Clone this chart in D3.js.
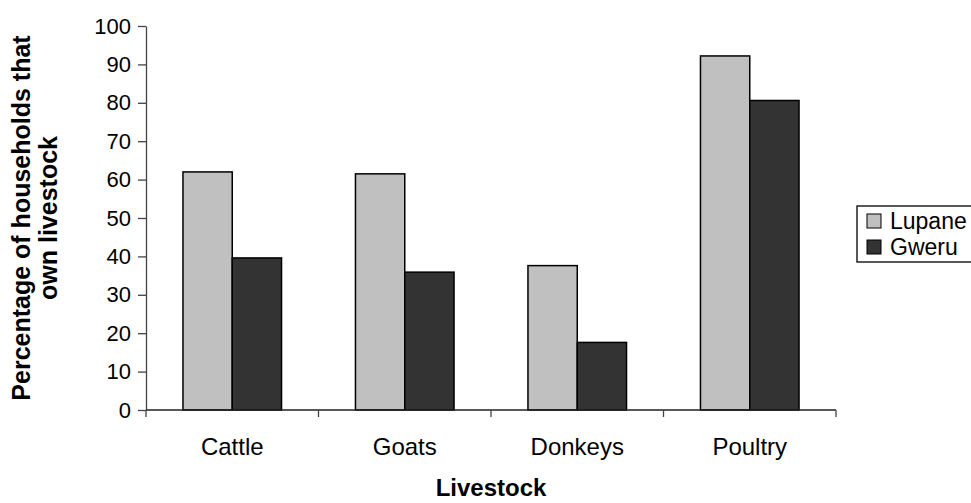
<!DOCTYPE html>
<html>
<head>
<meta charset="utf-8">
<script src="https://cdn.jsdelivr.net/npm/d3@7"></script>
<style>
  html, body { margin: 0; padding: 0; background: #fff; }
  svg { display: block; font-family: Arial, "Liberation Sans", sans-serif; }
</style>
</head>
<body>
<svg id="chart" width="971" height="503"></svg>
<script>
// Livestock ownership by district (% of households)
const categories = ["Cattle", "Goats", "Donkeys", "Poultry"];
const seriesNames = ["Lupane", "Gweru"];
const lupane = [62, 61.5, 37.6, 92.2];
const gweru = [39.6, 35.9, 17.6, 80.6];
const yTicks = [0, 10, 20, 30, 40, 50, 60, 70, 80, 90, 100];
const seriesColors = ["#c0c0c0", "#333333"];

const series = [lupane, gweru];
const svg = d3.select("#chart");

const plot = { left: 146, right: 836, top: 26, bottom: 410 };

const x = d3.scaleBand()
  .domain(categories)
  .range([plot.left, plot.right])
  .paddingInner(0)
  .paddingOuter(0);

// Two bars per category with a 150% gap between groups
const barW = x.bandwidth() / 3.5;
const xs = d3.scaleBand()
  .domain(seriesNames)
  .range([0, barW * 2]);

const y = d3.scaleLinear().domain([0, 100]).range([plot.bottom, plot.top]);

// Bars
seriesNames.forEach((name, si) => {
  svg.append("g")
    .selectAll("rect")
    .data(categories)
    .join("rect")
    .attr("x", c => x(c) + (x.bandwidth() - barW * 2) / 2 + xs(name))
    .attr("y", (c, i) => y(series[si][i]))
    .attr("width", xs.bandwidth())
    .attr("height", (c, i) => y(0) - y(series[si][i]))
    .attr("fill", seriesColors[si])
    .attr("stroke", "#000")
    .attr("stroke-width", 1.5);
});

// Y axis
const yAxis = svg.append("g")
  .attr("transform", `translate(${plot.left},0)`)
  .call(d3.axisLeft(y).tickValues(yTicks).tickSize(8).tickPadding(7).tickSizeOuter(0));
yAxis.select(".domain").attr("stroke", "#444").attr("stroke-width", 1.3);
yAxis.selectAll(".tick line").attr("stroke", "#444").attr("stroke-width", 1.3);
yAxis.selectAll(".tick text")
  .attr("font-size", 22)
  .attr("fill", "#000")
  .attr("font-family", "Arial, 'Liberation Sans', sans-serif");

// X axis: boundary ticks between categories
const xAxis = svg.append("g")
  .attr("transform", `translate(0,${plot.bottom})`);
xAxis.append("line")
  .attr("x1", plot.left).attr("x2", plot.right)
  .attr("stroke", "#222").attr("stroke-width", 1.3);
const bounds = categories.map(c => x(c)).concat([x(categories[categories.length - 1]) + x.bandwidth()]);
xAxis.selectAll("line.bt")
  .data(bounds)
  .join("line")
  .attr("class", "bt")
  .attr("x1", d => d).attr("x2", d => d)
  .attr("y1", 0).attr("y2", 7)
  .attr("stroke", "#444").attr("stroke-width", 1.3);
xAxis.selectAll("text")
  .data(categories)
  .join("text")
  .attr("x", c => x(c) + x.bandwidth() / 2)
  .attr("y", 45)
  .attr("text-anchor", "middle")
  .attr("font-size", 24)
  .text(c => c);

// Axis titles
svg.append("text")
  .attr("x", (plot.left + plot.right) / 2)
  .attr("y", 496)
  .attr("text-anchor", "middle")
  .attr("font-size", 24)
  .attr("font-weight", "bold")
  .text("Livestock");

const yTitle = svg.append("text")
  .attr("transform", `translate(0,${(plot.top + plot.bottom) / 2}) rotate(-90)`)
  .attr("text-anchor", "middle")
  .attr("font-size", 25)
  .attr("font-weight", "bold");
yTitle.append("tspan").attr("x", 0).attr("y", 30).text("Percentage of households that");
yTitle.append("tspan").attr("x", 0).attr("y", 57).text("own livestock");

// Legend
const legend = svg.append("g");
legend.append("rect")
  .attr("x", 857).attr("y", 206)
  .attr("width", 130).attr("height", 56)
  .attr("fill", "#fff")
  .attr("stroke", "#000")
  .attr("stroke-width", 1.3);
seriesNames.forEach((name, i) => {
  const cy = 221 + i * 26;
  legend.append("rect")
    .attr("x", 867).attr("y", cy - 7)
    .attr("width", 14).attr("height", 14)
    .attr("fill", seriesColors[i])
    .attr("stroke", "#000")
    .attr("stroke-width", 1);
  legend.append("text")
    .attr("x", 890).attr("y", cy + 8)
    .attr("font-size", 23)
    .text(name);
});
</script>
</body>
</html>
